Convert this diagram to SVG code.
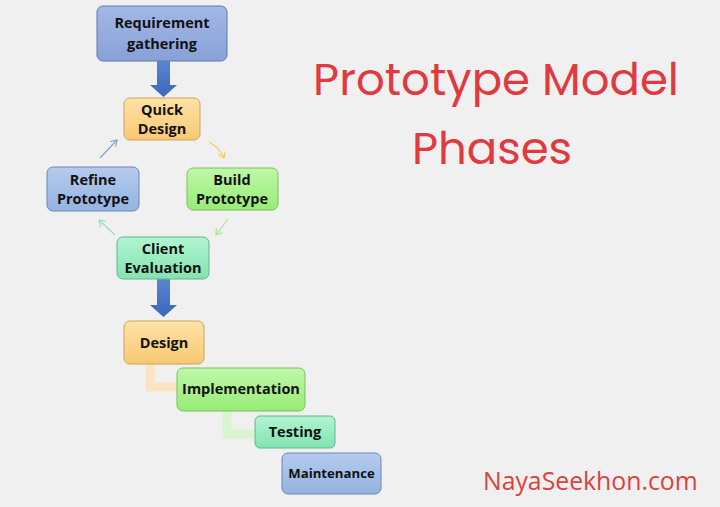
<svg xmlns="http://www.w3.org/2000/svg" width="720" height="507" viewBox="0 0 720 507">
<defs>
<linearGradient id="gBlue" x1="0" y1="0" x2="0" y2="1"><stop offset="0" stop-color="#a3b9e6"/><stop offset="1" stop-color="#87a0d6"/></linearGradient>
<linearGradient id="gBlue2" x1="0" y1="0" x2="0" y2="1"><stop offset="0" stop-color="#b5cbee"/><stop offset="1" stop-color="#94b3e0"/></linearGradient>
<linearGradient id="gOrange" x1="0" y1="0" x2="0" y2="1"><stop offset="0" stop-color="#fde2a6"/><stop offset="1" stop-color="#f9c872"/></linearGradient>
<linearGradient id="gGreen" x1="0" y1="0" x2="0" y2="1"><stop offset="0" stop-color="#c0f7a8"/><stop offset="1" stop-color="#97ec76"/></linearGradient>
<linearGradient id="gTeal" x1="0" y1="0" x2="0" y2="1"><stop offset="0" stop-color="#b2f4d2"/><stop offset="1" stop-color="#82e4b0"/></linearGradient>
<linearGradient id="gArrow" x1="0" y1="0" x2="0" y2="1"><stop offset="0" stop-color="#5a86cf"/><stop offset="1" stop-color="#3a66bd"/></linearGradient>
<marker id="mBlue" markerWidth="8" markerHeight="8" refX="6" refY="4" orient="auto" markerUnits="userSpaceOnUse"><path d="M0,0 L6,4 L0,8" fill="none" stroke="#7aa6d6" stroke-width="1.2"/></marker>
<marker id="mYellow" markerWidth="8" markerHeight="8" refX="6" refY="4" orient="auto" markerUnits="userSpaceOnUse"><path d="M0,0 L6,4 L0,8" fill="none" stroke="#f2cc5a" stroke-width="1.2"/></marker>
<marker id="mGreen" markerWidth="8" markerHeight="8" refX="6" refY="4" orient="auto" markerUnits="userSpaceOnUse"><path d="M0,0 L6,4 L0,8" fill="none" stroke="#a8e68a" stroke-width="1.2"/></marker>
<marker id="mTeal" markerWidth="8" markerHeight="8" refX="6" refY="4" orient="auto" markerUnits="userSpaceOnUse"><path d="M0,0 L6,4 L0,8" fill="none" stroke="#8ee0c0" stroke-width="1.2"/></marker>
</defs>
<style>
.lbl{font-family:"Open Sans","Noto Sans","DejaVu Sans",sans-serif;font-weight:bold;font-size:14.5px;fill:#111;text-anchor:middle}
.box{stroke-width:1}
.blue{fill:url(#gBlue);stroke:#5f78b0}
.blue2{fill:url(#gBlue2);stroke:#6a86b8}
.orange{fill:url(#gOrange);stroke:#c9a55e}
.green{fill:url(#gGreen);stroke:#7cbf5e}
.teal{fill:url(#gTeal);stroke:#5fb88c}
.title{font-family:Poppins,"Noto Sans","Open Sans",sans-serif;font-size:45px;fill:#e0393e;text-anchor:middle}
.site{font-family:"Open Sans","Noto Sans",sans-serif;font-size:24.8px;fill:#d9443f}
</style>
<rect width="720" height="507" fill="#f0f0f0"/>

<g id="connectors">
<path d="M157,61 H170 V85 H177 L163.5,97 L150,85 H157 Z" fill="url(#gArrow)"/>
<path d="M157,279 H170 V305 H177 L163.5,317 L150,305 H157 Z" fill="url(#gArrow)"/>
<path d="M100,158 L117,140" stroke="#7aa6d6" stroke-width="1.2" fill="none" marker-end="url(#mBlue)"/>
<path d="M209,142 Q219,147 224,158" stroke="#f2cc5a" stroke-width="1.2" fill="none" marker-end="url(#mYellow)"/>
<path d="M228,219 L216,235" stroke="#a8e68a" stroke-width="1.2" fill="none" marker-end="url(#mGreen)"/>
<path d="M115,235 L99,220" stroke="#8ee0c0" stroke-width="1.2" fill="none" marker-end="url(#mTeal)"/>
<path d="M150,364 V387 H177" stroke="#fde3c6" stroke-width="9" fill="none"/>
<path d="M227,411 V434 H255" stroke="#d8f5d2" stroke-width="9" fill="none"/>
</g>

<g id="req"><rect class="box blue" x="97" y="6" width="130" height="55" rx="6"/><text class="lbl" x="162" y="28">Requirement</text><text class="lbl" x="162" y="49">gathering</text></g>
<g id="quick"><rect class="box orange" x="124" y="98" width="76" height="42" rx="6"/><text class="lbl" x="162" y="115">Quick</text><text class="lbl" x="162" y="134">Design</text></g>
<g id="refine"><rect class="box blue2" x="47" y="167" width="92" height="44" rx="6"/><text class="lbl" x="93" y="185">Refine</text><text class="lbl" x="93" y="204">Prototype</text></g>
<g id="build"><rect class="box green" x="187" y="168" width="91" height="42" rx="6"/><text class="lbl" x="232" y="185">Build</text><text class="lbl" x="232" y="204">Prototype</text></g>
<g id="client"><rect class="box teal" x="117" y="237" width="92" height="42" rx="6"/><text class="lbl" x="163" y="254">Client</text><text class="lbl" x="163" y="273">Evaluation</text></g>
<g id="design"><rect class="box orange" x="124" y="321" width="80" height="43" rx="6"/><text class="lbl" x="164" y="348">Design</text></g>
<g id="impl"><rect class="box green" x="177" y="368" width="128" height="43" rx="6"/><text class="lbl" x="241" y="394">Implementation</text></g>
<g id="testing"><rect class="box teal" x="255" y="416" width="80" height="32" rx="5"/><text class="lbl" x="295" y="437">Testing</text></g>
<g id="maint"><rect class="box blue2" x="282" y="453" width="99" height="41" rx="6"/><text class="lbl" x="331.5" y="478" style="font-size:13.2px">Maintenance</text></g>

<text class="title" x="496" y="95">Prototype Model</text>
<text class="title" x="492" y="164">Phases</text>
<text class="site" x="483" y="490">NayaSeekhon.com</text>
</svg>
